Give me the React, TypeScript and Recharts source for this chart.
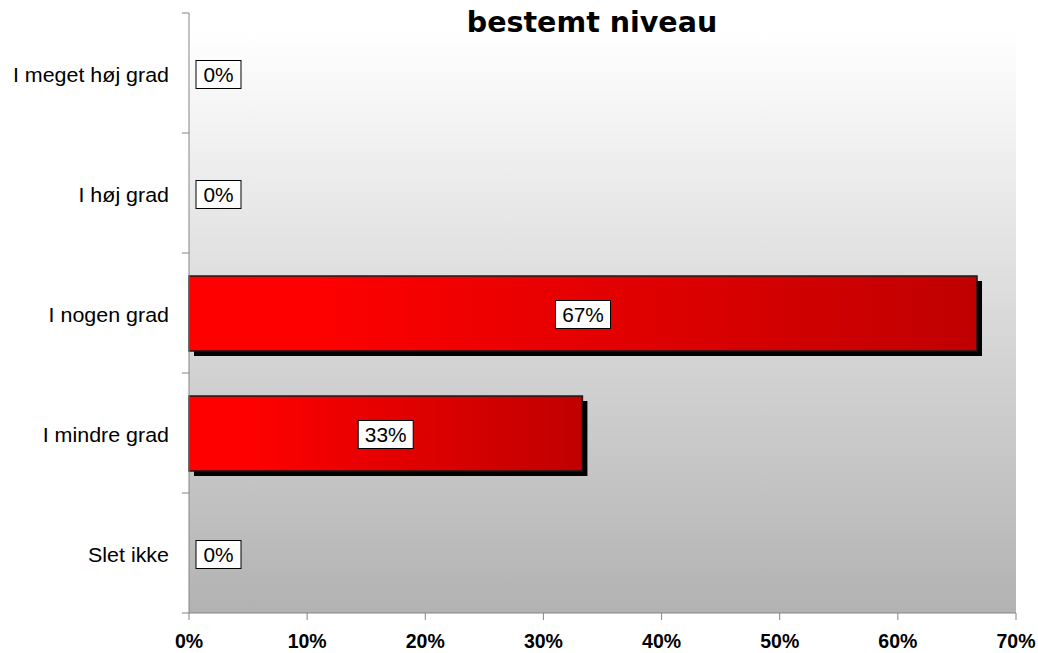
import { BarChart, Bar, XAxis, YAxis, LabelList } from "recharts";

const categories = [
  "I meget høj grad",
  "I høj grad",
  "I nogen grad",
  "I mindre grad",
  "Slet ikke",
];
const shares = [0, 0, 66.7, 33.3, 0];
const xTicks = [0, 10, 20, 30, 40, 50, 60, 70];

const data = categories.map((name, i) => ({ name, share: shares[i] }));

const axisGray = "#858585";
const chartW = 1038;
const chartH = 653;
const margin = { top: 13, right: 22, bottom: 0, left: 0 };
const xAxisH = 40;
const yAxisW = 189;
const labelGap = 20;
// half a category band, so the y ticks sit between the categories like Excel does
const halfBand = (chartH - margin.top - margin.bottom - xAxisH) / categories.length / 2;

function ShadowBar(props: any) {
  const { x, y, width, height } = props;
  if (!width || width <= 0) return null;
  return (
    <g>
      <rect x={x + 5} y={y + 5} width={width} height={height} fill="#000" />
      <rect
        x={x}
        y={y}
        width={width}
        height={height}
        fill="url(#barFill)"
        stroke="#1a1a1a"
        strokeWidth={1.5}
      />
    </g>
  );
}

function ValueBox(props: any) {
  const { x, y, width, height, value } = props;
  const text = `${Math.round(value)}%`;
  const boxW = text.length * 10 + 25;
  const boxH = 28;
  const cx = width > 0 ? x + width / 2 : x + 7 + boxW / 2;
  const cy = y + height / 2 + 1;
  return (
    <g>
      <rect
        x={cx - boxW / 2}
        y={cy - boxH / 2}
        width={boxW}
        height={boxH}
        fill="#fff"
        stroke="#000"
        strokeWidth={1}
      />
      <g transform={`translate(${cx},${cy}) scale(1.07,1)`}>
        <text
          textAnchor="middle"
          dy={7}
          fontFamily="'Liberation Sans', Arial, sans-serif"
          fontSize={19.5}
          fill="#000"
        >
          {text}
        </text>
      </g>
    </g>
  );
}

function CategoryTick(props: any) {
  const { x, y, payload, index } = props;
  const axisX = x + labelGap;
  const last = index === categories.length - 1;
  return (
    <g>
      <line x1={axisX - 7} x2={axisX} y1={y - halfBand} y2={y - halfBand} stroke={axisGray} />
      {last && (
        <line x1={axisX - 7} x2={axisX} y1={y + halfBand} y2={y + halfBand} stroke={axisGray} />
      )}
      <g transform={`translate(${x},${y}) scale(1.1,1)`}>
        <text
          textAnchor="end"
          dy={9}
          fontFamily="'Liberation Sans', Arial, sans-serif"
          fontSize={19.5}
          fill="#000"
        >
          {payload.value}
        </text>
      </g>
    </g>
  );
}

function PercentTick(props: any) {
  const { x, y, payload } = props;
  return (
    <text
      x={x}
      y={y}
      dy={26}
      textAnchor="middle"
      fontFamily="'Liberation Sans', Arial, sans-serif"
      fontWeight="bold"
      fontSize={19.5}
      fill="#000"
    >
      {`${payload.value}%`}
    </text>
  );
}

export default function App() {
  return (
    <div
      style={{
        position: "absolute",
        left: 0,
        top: 0,
        width: chartW,
        height: chartH,
        overflow: "hidden",
        background: "#fff",
      }}
    >
      <div
        style={{
          position: "absolute",
          left: yAxisW,
          top: 32,
          width: chartW - yAxisW - margin.right,
          height: chartH - xAxisH - 32,
          background: "linear-gradient(#ffffff, #b2b2b2)",
        }}
      />
      <div style={{ position: "absolute", left: 0, top: 0 }}>
        <BarChart
          width={chartW}
          height={chartH}
          data={data}
          layout="vertical"
          margin={margin}
          barSize={75}
        >
          <defs>
            <linearGradient id="barFill" x1="0" y1="0" x2="1" y2="0">
              <stop offset="0%" stopColor="#ff0000" />
              <stop offset="15%" stopColor="#ff0000" />
              <stop offset="100%" stopColor="#c00000" />
            </linearGradient>
          </defs>
          <XAxis
            type="number"
            domain={[0, 70]}
            ticks={xTicks}
            interval={0}
            height={xAxisH}
            tickSize={7}
            stroke={axisGray}
            tick={<PercentTick />}
          />
          <YAxis
            type="category"
            dataKey="name"
            width={yAxisW}
            tickLine={false}
            tickSize={0}
            tickMargin={labelGap}
            stroke={axisGray}
            interval={0}
            tick={<CategoryTick />}
          />
          <Bar dataKey="share" isAnimationActive={false} shape={<ShadowBar />}>
            <LabelList dataKey="share" content={<ValueBox />} />
          </Bar>
        </BarChart>
      </div>
      <svg
        width={chartW}
        height={chartH}
        style={{ position: "absolute", left: 0, top: 0, pointerEvents: "none" }}
      >
        <text
          x={592}
          y={32}
          textAnchor="middle"
          fontFamily="'DejaVu Sans', Verdana, sans-serif"
          fontWeight="bold"
          fontSize={28.5}
          fill="#000"
        >
          bestemt niveau
        </text>
      </svg>
    </div>
  );
}
